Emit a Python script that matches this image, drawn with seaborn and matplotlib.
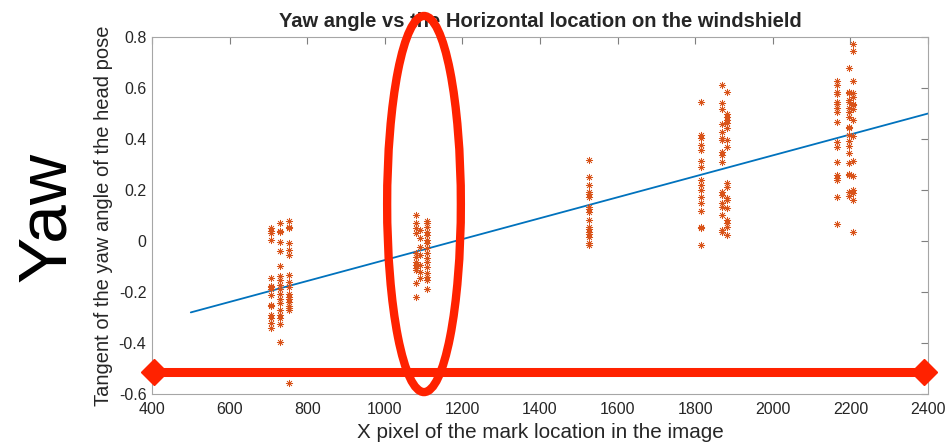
import pandas as pd
import matplotlib
matplotlib.use("Agg")
import matplotlib.pyplot as plt
import seaborn as sns
from matplotlib.patches import Ellipse

# --- data ---
# x position of each column of samples (pixels on the windshield)
col_x = [706, 730, 752, 1080, 1090, 1110, 1525, 1815, 1868, 1881, 2166, 2196, 2207]

# tangent of yaw angle for every sample in each column
col_y = [
    [0.05, 0.04, 0.033, 0.004, -0.146, -0.176, -0.18, -0.19, -0.21, -0.25, -0.255, -0.29, -0.30, -0.32, -0.34],
    [0.069, 0.04, 0.036, -0.003, -0.038, -0.098, -0.137, -0.153, -0.173, -0.19, -0.208, -0.229, -0.244,
     -0.27, -0.29, -0.30, -0.325, -0.395],
    [0.08, 0.056, 0.05, -0.009, -0.035, -0.055, -0.133, -0.16, -0.18, -0.208, -0.218, -0.229, -0.238,
     -0.255, -0.264, -0.27, -0.558],
    [0.102, 0.072, 0.05, 0.03, -0.048, -0.062, -0.081, -0.094, -0.107, -0.114, -0.166, -0.218],
    [0.043, 0.01, -0.022, -0.055, -0.094, -0.12, -0.146],
    [0.08, 0.069, 0.056, 0.036, 0.024, 0.004, -0.009, -0.029, -0.048, -0.068, -0.081, -0.1, -0.124,
     -0.14, -0.153, -0.19],
    [0.318, 0.252, 0.22, 0.193, 0.184, 0.174, 0.135, 0.124, 0.115, 0.082, 0.056, 0.046, 0.036, 0.027,
     0.017, -0.007, -0.016],
    [0.544, 0.416, 0.403, 0.376, 0.357, 0.315, 0.291, 0.239, 0.22, 0.2, 0.174, 0.148, 0.119, 0.056,
     0.05, -0.016],
    [0.612, 0.54, 0.516, 0.459, 0.429, 0.403, 0.396, 0.35, 0.337, 0.311, 0.193, 0.18, 0.148, 0.135,
     0.102, 0.043, 0.034],
    [0.583, 0.5, 0.487, 0.475, 0.462, 0.442, 0.396, 0.367, 0.226, 0.213, 0.167, 0.161, 0.128, 0.082,
     0.069, 0.056, 0.024],
    [0.629, 0.612, 0.586, 0.576, 0.546, 0.539, 0.52, 0.507, 0.468, 0.389, 0.37, 0.311, 0.259, 0.246,
     0.239, 0.174, 0.065],
    [0.677, 0.586, 0.579, 0.553, 0.546, 0.52, 0.507, 0.485, 0.448, 0.442, 0.416, 0.392, 0.373, 0.346,
     0.305, 0.263, 0.259, 0.193, 0.176],
    [0.773, 0.746, 0.629, 0.579, 0.566, 0.539, 0.533, 0.518, 0.475, 0.412, 0.315, 0.255, 0.2, 0.187,
     0.161, 0.036],
]

# fitted line end points
fit_x = [500, 2400]
fit_y = [-0.28, 0.50]

x_ticks = [400, 600, 800, 1000, 1200, 1400, 1600, 1800, 2000, 2200, 2400]
y_ticks = [-0.6, -0.4, -0.2, 0, 0.2, 0.4, 0.6, 0.8]
y_tick_labels = ["-0.6", "-0.4", "-0.2", "0", "0.2", "0.4", "0.6", "0.8"]

# highlighted region (ellipse) and horizontal range arrow, in data units
ellipse_center = (1101, 0.145)
ellipse_size = (190, 1.475)
arrow_x = [405, 2390]
arrow_y = [-0.515, -0.515]

# build a long table
rows = []
for x, ys in zip(col_x, col_y):
    for y in ys:
        rows.append((x, y))
df = pd.DataFrame(rows, columns=["x", "y"])

sns.set_style("white")
plt.rcParams["font.family"] = ["Liberation Sans", "DejaVu Sans"]
plt.rcParams["axes.unicode_minus"] = False

fig = plt.figure(figsize=(9.53, 4.46), dpi=100)
ax = fig.add_axes([0.1595, 0.1166, 0.8143, 0.8004])

sns.scatterplot(data=df, x="x", y="y", ax=ax, marker=(8, 2, 0), color="#D95319",
                s=22, linewidth=0.5, zorder=3)
sns.lineplot(x=fit_x, y=fit_y, ax=ax, color="#0072BD", linewidth=1.3, zorder=2)

ax.set_xlim(400, 2400)
ax.set_ylim(-0.6, 0.8)
ax.set_xticks(x_ticks)
ax.set_yticks(y_ticks)
ax.set_yticklabels(y_tick_labels)
ax.tick_params(direction="in", top=True, right=True, length=5, width=0.8,
               color="#7f7f7f", labelcolor="#262626", labelsize=11.5)
ax.tick_params(axis="x", pad=6)
ax.tick_params(axis="y", pad=4)
for s in ax.spines.values():
    s.set_color("#a6a6a6")
    s.set_linewidth(0.8)

ax.set_title("Yaw angle vs the Horizontal location on the windshield",
             fontweight="bold", fontsize=14.5, pad=7)
ax.set_xlabel("X pixel of the mark location in the image", fontsize=14.9,
              color="#262626", labelpad=4)
ax.set_ylabel("Tangent of the yaw angle of the head pose", fontsize=14.5,
              color="#262626", labelpad=4)

# annotations drawn over the chart
ell = Ellipse(ellipse_center, ellipse_size[0], ellipse_size[1], fill=False,
              edgecolor="#FF2200", linewidth=6, clip_on=False, zorder=6)
ax.add_patch(ell)
ax.plot(arrow_x, arrow_y, color="#FF2200", linewidth=6.5, marker="D", markersize=13,
        clip_on=False, zorder=6, solid_capstyle="butt")

fig.text(47 / 953, 1 - 217 / 446, "Yaw", rotation=90, fontsize=50,
         ha="center", va="center", color="black")

fig.savefig("out.png", dpi=100)
